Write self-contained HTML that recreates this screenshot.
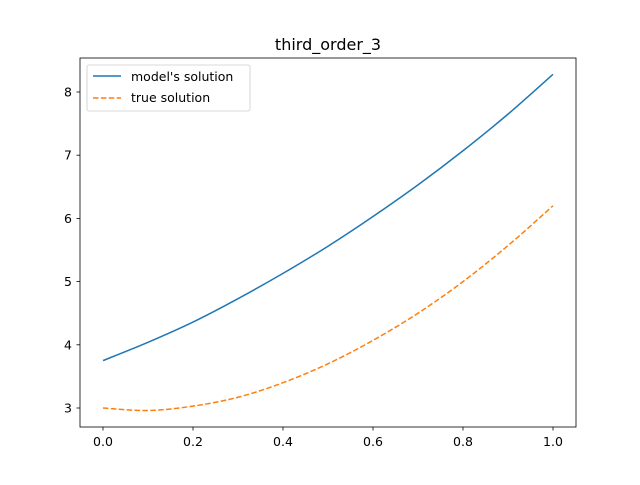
<!DOCTYPE html>
<html><head><meta charset="utf-8"><style>
body{margin:0;background:#fff;font-family:"Liberation Sans","DejaVu Sans",sans-serif;}
svg text{font-family:"DejaVu Sans","Liberation Sans",sans-serif;}
</style></head><body>
<svg id="c" width="640" height="480" xmlns="http://www.w3.org/2000/svg">
<rect width="640" height="480" fill="#fff"/>
<text x="328" y="50" font-size="16" text-anchor="middle">third_order_3</text>
<g id="g"></g>
<rect x="80" y="58" width="496" height="369" fill="none" stroke="#000" stroke-width="0.8"/>
<g>
<rect x="87" y="65" width="163" height="46" rx="2" fill="#fff" stroke="#ccc" stroke-width="0.8"/>
<line x1="93" y1="76" x2="121" y2="76" stroke="#1f77b4" stroke-width="1.5"/>
<text x="131" y="81" font-size="12.5">model's solution</text>
<line x1="93" y1="98" x2="121" y2="98" stroke="#ff7f0e" stroke-width="1.5" stroke-dasharray="5.5,2.4"/>
<text x="131" y="102" font-size="12.5">true solution</text>
</g>
</svg>
<script>
const xs=[0,0.1,0.2,0.3,0.4,0.5,0.6,0.7,0.8,0.9,1.0];
const modelVals=[3.75,4.04,4.36,4.73,5.13,5.56,6.03,6.53,7.07,7.65,8.28];
const trueVals=[3.0,2.96,3.03,3.17,3.4,3.70,4.07,4.5,5.0,5.57,6.2];
const xTicks=[0,0.2,0.4,0.6,0.8,1.0];
const yTicks=[3,4,5,6,7,8];
const X=v=>103+v*450, Y=v=>408-(v-3)*63.2;
const g=document.getElementById('g'),NS='http://www.w3.org/2000/svg';
function mk(t,a){const e=document.createElementNS(NS,t);for(const k in a)e.setAttribute(k,a[k]);g.appendChild(e);return e;}
xTicks.forEach(v=>{const l=mk('line',{x1:X(v),x2:X(v),y1:427,y2:430.5,stroke:'#000','stroke-width':0.8});


const t=mk('text',{x:X(v),y:446,'font-size':12.5,'text-anchor':'middle'});t.textContent=v.toFixed(1);

});
yTicks.forEach(v=>{const l=mk('line',{x1:76.5,x2:80,y1:Y(v),y2:Y(v),stroke:'#000','stroke-width':0.8});


const t=mk('text',{x:72,y:Y(v)+4.5,'font-size':12.5,'text-anchor':'end'});t.textContent=v;

});
function path(vals){const P=vals.map((v,i)=>[X(xs[i]),Y(v)]);const n=P.length;
let d='M'+P[0][0]+','+P[0][1];
for(let i=0;i<n-1;i++){const p0=P[Math.max(0,i-1)],p1=P[i],p2=P[i+1],p3=P[Math.min(n-1,i+2)];
const c1=[p1[0]+(p2[0]-p0[0])/6,p1[1]+(p2[1]-p0[1])/6],c2=[p2[0]-(p3[0]-p1[0])/6,p2[1]-(p3[1]-p1[1])/6];
d+='C'+c1.join(',')+' '+c2.join(',')+' '+p2.join(',');}
return d;}
const p1=mk('path',{d:path(modelVals),fill:'none',stroke:'#1f77b4','stroke-width':1.5});


const p2=mk('path',{d:path(trueVals),fill:'none',stroke:'#ff7f0e','stroke-width':1.5,'stroke-dasharray':'5.5,2.4'});


</script>
</body></html>
